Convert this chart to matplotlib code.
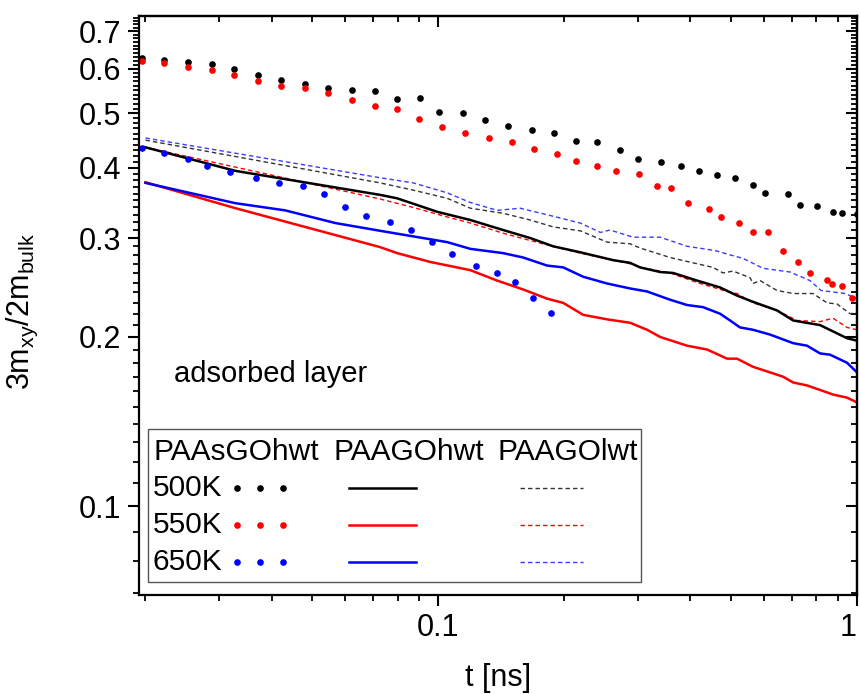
import numpy as np
import matplotlib
matplotlib.use("Agg")
import matplotlib.pyplot as plt
from matplotlib.ticker import FixedLocator, NullFormatter, FixedFormatter
from matplotlib.lines import Line2D
from matplotlib.patches import Rectangle

plt.rcParams['font.family'] = ['Liberation Sans', 'DejaVu Sans']
plt.rcParams['mathtext.fontset'] = 'custom'
plt.rcParams['mathtext.rm'] = 'Liberation Sans'
plt.rcParams['mathtext.it'] = 'Liberation Sans'

# PAAsGOhwt (dotted)
t_s500 = [0.0196, 0.0222, 0.0253, 0.0289, 0.0326, 0.0372, 0.0422, 0.0482, 0.0546, 0.0623,
          0.0707, 0.0798, 0.0906, 0.1006, 0.1147, 0.1295, 0.1469, 0.1676, 0.1891, 0.2135,
          0.2396, 0.2719, 0.3002, 0.3404, 0.3802, 0.4197, 0.4634, 0.5114, 0.5646, 0.6033,
          0.6846, 0.7311, 0.8028, 0.8765, 0.9209, 1.0]
m_s500 = [0.627, 0.622, 0.617, 0.612, 0.599, 0.585, 0.573, 0.564, 0.554, 0.550,
          0.547, 0.530, 0.532, 0.502, 0.500, 0.486, 0.475, 0.467, 0.461, 0.446,
          0.444, 0.430, 0.414, 0.409, 0.403, 0.395, 0.388, 0.383, 0.373, 0.361,
          0.359, 0.343, 0.342, 0.334, 0.332, 0.331]
t_s550 = [0.0196, 0.0222, 0.0253, 0.0289, 0.0326, 0.0372, 0.0422, 0.0482, 0.0546, 0.0623,
          0.0705, 0.0798, 0.0901, 0.1022, 0.1160, 0.1323, 0.1502, 0.1695, 0.1923, 0.2135,
          0.2396, 0.2660, 0.3018, 0.3332, 0.3598, 0.3951, 0.4434, 0.4736, 0.5229, 0.5646,
          0.6133, 0.6658, 0.7233, 0.7722, 0.8480, 0.8717, 0.9209, 0.9720]
m_s550 = [0.619, 0.614, 0.604, 0.597, 0.585, 0.570, 0.559, 0.554, 0.543, 0.528,
          0.515, 0.509, 0.488, 0.473, 0.461, 0.452, 0.444, 0.432, 0.423, 0.411,
          0.403, 0.395, 0.390, 0.371, 0.368, 0.347, 0.338, 0.327, 0.319, 0.307,
          0.307, 0.285, 0.272, 0.260, 0.253, 0.248, 0.246, 0.235]
t_s650 = [0.0196, 0.0221, 0.0252, 0.0281, 0.0319, 0.0368, 0.0417, 0.0476, 0.0535, 0.0600,
          0.0673, 0.0768, 0.0862, 0.0967, 0.1080, 0.1232, 0.1383, 0.1527, 0.1685, 0.1861]
m_s650 = [0.434, 0.425, 0.414, 0.403, 0.393, 0.383, 0.376, 0.371, 0.359, 0.340,
          0.328, 0.321, 0.310, 0.295, 0.281, 0.268, 0.260, 0.251, 0.235, 0.221]

# PAAGOhwt (solid)
t_h500 = [0.0200, 0.0328, 0.0727, 0.0798, 0.0995, 0.1193, 0.1429, 0.1658, 0.1881, 0.2183,
          0.2617, 0.2872, 0.3034, 0.3390, 0.3638, 0.4151, 0.4710, 0.5170, 0.5646, 0.6442,
          0.7040, 0.8161, 0.8960, 0.9465, 1.0]
m_h500 = [0.435, 0.395, 0.358, 0.353, 0.334, 0.323, 0.310, 0.300, 0.290, 0.283,
          0.274, 0.271, 0.266, 0.261, 0.260, 0.252, 0.245, 0.237, 0.231, 0.223,
          0.214, 0.210, 0.203, 0.199, 0.197]
t_h550 = [0.0200, 0.0328, 0.0727, 0.0798, 0.0957, 0.1193, 0.1383, 0.1595, 0.1820, 0.1988,
          0.2219, 0.2531, 0.2872, 0.3154, 0.3390, 0.3929, 0.4386, 0.4896, 0.5170, 0.5646,
          0.6199, 0.6658, 0.7040, 0.7598, 0.8161, 0.8765, 0.9465, 1.0]
m_h550 = [0.377, 0.339, 0.289, 0.282, 0.272, 0.263, 0.252, 0.243, 0.234, 0.230,
          0.219, 0.215, 0.212, 0.206, 0.200, 0.193, 0.190, 0.183, 0.183, 0.177,
          0.173, 0.170, 0.166, 0.164, 0.161, 0.158, 0.156, 0.153]
t_h650 = [0.0200, 0.0328, 0.0431, 0.0568, 0.0727, 0.0872, 0.1051, 0.1193, 0.1429, 0.1595,
          0.1820, 0.1988, 0.2219, 0.2531, 0.2872, 0.3154, 0.3578, 0.3929, 0.4291, 0.4710,
          0.4976, 0.5256, 0.5646, 0.6199, 0.7040, 0.7598, 0.8161, 0.8622, 0.9465, 1.0]
m_h650 = [0.376, 0.346, 0.336, 0.319, 0.309, 0.302, 0.295, 0.287, 0.282, 0.277,
          0.268, 0.266, 0.256, 0.249, 0.244, 0.241, 0.233, 0.228, 0.226, 0.220,
          0.214, 0.208, 0.206, 0.202, 0.195, 0.193, 0.187, 0.186, 0.180, 0.173]

# PAAGOlwt (dashed)
t_l500 = [0.0200, 0.0727, 0.0872, 0.1051, 0.1193, 0.1429, 0.1658, 0.1881, 0.2183, 0.2531,
          0.2872, 0.3034, 0.3578, 0.4061, 0.4532, 0.4788, 0.5059, 0.5555, 0.5646, 0.5870,
          0.6442, 0.7040, 0.7852, 0.8480, 0.8960, 0.9623, 1.0]
m_l500 = [0.448, 0.376, 0.365, 0.353, 0.339, 0.332, 0.323, 0.314, 0.309, 0.295,
          0.293, 0.288, 0.277, 0.271, 0.266, 0.260, 0.262, 0.255, 0.249, 0.252,
          0.242, 0.239, 0.239, 0.230, 0.229, 0.220, 0.221]
t_l550 = [0.0200, 0.0727, 0.0872, 0.1051, 0.1193, 0.1429, 0.1658, 0.1881, 0.2183, 0.2617,
          0.2872, 0.3034, 0.3578, 0.4151, 0.4896, 0.5170, 0.5646, 0.6442, 0.7190, 0.8161,
          0.8765, 0.9465, 1.0]
m_l550 = [0.435, 0.352, 0.340, 0.327, 0.319, 0.306, 0.297, 0.290, 0.282, 0.274,
          0.270, 0.266, 0.260, 0.250, 0.241, 0.239, 0.230, 0.223, 0.214, 0.213,
          0.216, 0.208, 0.206]
t_l650 = [0.0200, 0.0727, 0.0872, 0.1051, 0.1193, 0.1383, 0.1569, 0.1820, 0.2183, 0.2440,
          0.2573, 0.2920, 0.3390, 0.3929, 0.4583, 0.4976, 0.5344, 0.5967, 0.6920, 0.7722,
          0.8207, 0.9362, 1.0]
m_l650 = [0.452, 0.384, 0.376, 0.361, 0.347, 0.336, 0.339, 0.330, 0.319, 0.307,
          0.310, 0.301, 0.301, 0.290, 0.285, 0.280, 0.276, 0.265, 0.261, 0.252,
          0.242, 0.239, 0.234]

temps = ['500K', '550K', '650K']
colors = ['black', 'red', 'blue']
dash_colors = ['#333333', 'red', '#3b3bff']
groups = ['PAAsGOhwt', 'PAAGOhwt', 'PAAGOlwt']

fig = plt.figure(figsize=(8.61, 6.94), dpi=100)
ax = fig.add_axes([139/861, 1-595/694, 718/861, 579/694])

dotted = [(t_s500, m_s500), (t_s550, m_s550), (t_s650, m_s650)]
solid = [(t_h500, m_h500), (t_h550, m_h550), (t_h650, m_h650)]
dashed = [(t_l500, m_l500), (t_l550, m_l550), (t_l650, m_l650)]

for (t, m), c in zip(dashed, dash_colors):
    ax.plot(t, m, color=c, lw=1.0, dashes=(3.2, 2.2))
for (t, m), c in zip(solid, colors):
    ax.plot(t, m, color=c, lw=1.8)
for (t, m), c in zip(dotted, colors):
    ax.plot(t, m, ls='none', marker='o', ms=4.8, mec='none', mfc=c)

ax.set_xscale('log')
ax.set_yscale('log')
ax.set_xlim(0.0193, 1.0)
ax.set_ylim(0.0695, 0.745)

# ticks
ymaj = [0.1, 0.2, 0.3, 0.4, 0.5, 0.6, 0.7]
ymin = [v/100 for v in range(7, 75) if v % 10 != 0]
xmaj = [0.1, 1.0]
xmin = [v/100 for v in range(2, 10)] + [v/10 for v in range(2, 10)]

ax.yaxis.set_major_locator(FixedLocator(ymaj))
ax.yaxis.set_major_formatter(FixedFormatter(['0.1', '0.2', '0.3', '0.4', '0.5', '0.6', '0.7']))
ax.yaxis.set_minor_locator(FixedLocator(ymin))
ax.yaxis.set_minor_formatter(NullFormatter())
ax.xaxis.set_major_locator(FixedLocator(xmaj))
ax.xaxis.set_major_formatter(FixedFormatter(['0.1', '1']))
ax.xaxis.set_minor_locator(FixedLocator(xmin))
ax.xaxis.set_minor_formatter(NullFormatter())

for s in ax.spines.values():
    s.set_linewidth(1.6)
ax.tick_params(which='major', direction='out', length=8, width=1.5, labelsize=22, pad=5)
ax.tick_params(which='minor', direction='out', length=4.5, width=1.3)
# keep the "1" at the right end inside the figure
ax.xaxis.get_major_ticks()[1].label1.set_horizontalalignment('right')

# inward ticks on top and right
top = ax.secondary_xaxis('top', functions=(lambda v: v, lambda v: v))
top.xaxis.set_major_locator(FixedLocator(xmaj))
top.xaxis.set_minor_locator(FixedLocator(xmin))
top.xaxis.set_major_formatter(NullFormatter())
top.xaxis.set_minor_formatter(NullFormatter())
top.tick_params(which='major', direction='in', length=8, width=1.5)
top.tick_params(which='minor', direction='in', length=4.5, width=1.3)
right = ax.secondary_yaxis('right', functions=(lambda v: v, lambda v: v))
right.yaxis.set_major_locator(FixedLocator(ymaj))
right.yaxis.set_minor_locator(FixedLocator(ymin))
right.yaxis.set_major_formatter(NullFormatter())
right.yaxis.set_minor_formatter(NullFormatter())
right.tick_params(which='major', direction='in', length=8, width=1.5)
right.tick_params(which='minor', direction='in', length=4.5, width=1.3)
for sec in (top, right):
    for s in sec.spines.values():
        s.set_linewidth(1.6)

ax.set_xlabel('t [ns]', fontsize=22)
ax.xaxis.set_label_coords(0.5, -0.117)
ax.set_ylabel(r'3m$_\mathregular{xy}$/2m$_\mathregular{bulk}$', fontsize=22)
ax.yaxis.set_label_coords(-0.138, 0.49)

ax.text(0.049, 0.368, 'adsorbed layer', transform=ax.transAxes, fontsize=21,
        va='baseline', ha='left')


# legend table, positions in pixels of the figure
def fx(px):
    return (px - 139) / 718


def fy(py):
    return (595 - py) / 579


ax.add_patch(Rectangle((fx(148), fy(582)), fx(641) - fx(148), fy(429) - fy(582),
                       transform=ax.transAxes, fill=False, ec='#555555', lw=1.0))
for gx, g in zip([153, 333, 498], groups):
    ax.text(fx(gx), fy(452), g, transform=ax.transAxes, fontsize=21.5,
            va='center', ha='left')
for row, (tl, c, dc) in enumerate(zip(temps, colors, dash_colors)):
    yy = fy(488 + 37 * row)
    ax.text(fx(153), yy, tl, transform=ax.transAxes, fontsize=21.5, va='center', ha='left')
    ax.add_line(Line2D([fx(237), fx(260), fx(283)], [yy] * 3, transform=ax.transAxes,
                       ls='none', marker='o', ms=4.8, mec='none', mfc=c))
    ax.add_line(Line2D([fx(349), fx(416)], [yy] * 2, transform=ax.transAxes,
                       color=c, lw=1.8))
    ax.add_line(Line2D([fx(520), fx(583)], [yy] * 2, transform=ax.transAxes,
                       color=dc, lw=1.0, dashes=(3.2, 2.2)))

fig.savefig('out.png', dpi=100)
